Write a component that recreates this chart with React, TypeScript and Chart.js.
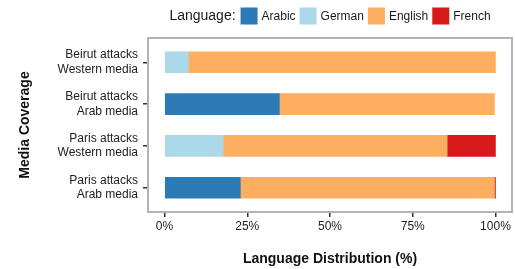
import React, { useEffect, useRef } from 'react';
import { Chart, registerables } from 'chart.js';

Chart.register(...registerables);

const categories: string[][] = [
  ['Beirut attacks', 'Western media'],
  ['Beirut attacks', 'Arab media'],
  ['Paris attacks', 'Western media'],
  ['Paris attacks', 'Arab media'],
];
const languages = ['Arabic', 'German', 'English', 'French'];
const arabic = [0, 34.7, 0, 22.9];
const german = [7.2, 0, 17.7, 0];
const english = [92.8, 65.0, 67.7, 76.8];
const french = [0, 0, 14.6, 0.3];
const xTicks = [0, 25, 50, 75, 100];
const colors = ['#2c7bb6', '#abd9e9', '#fdae61', '#d7191c'];

const FONT = '"Liberation Sans", Arial, Helvetica, sans-serif';

const framePlugin = {
  id: 'frameAndLegend',
  afterDraw(chart: any) {
    const { ctx, chartArea } = chart;
    ctx.save();
    // frame
    ctx.strokeStyle = '#b3b3b3';
    ctx.lineWidth = 2;
    ctx.strokeRect(chartArea.left, chartArea.top, chartArea.right - chartArea.left, chartArea.bottom - chartArea.top);
    // legend
    const cy = 16;
    const box = 17;
    ctx.textBaseline = 'middle';
    ctx.textAlign = 'left';
    ctx.font = `14px ${FONT}`;
    const titleW = ctx.measureText('Language:').width;
    ctx.font = `12px ${FONT}`;
    const labelW = languages.map((l) => ctx.measureText(l).width);
    let total = titleW + 5;
    labelW.forEach((w, i) => {
      total += box + 4 + w + (i < labelW.length - 1 ? 4 : 0);
    });
    let x = (chartArea.left + chartArea.right) / 2 - total / 2;
    ctx.fillStyle = '#1a1a1a';
    ctx.font = `14px ${FONT}`;
    ctx.fillText('Language:', x, cy + 0.5);
    x += titleW + 5;
    ctx.font = `12px ${FONT}`;
    languages.forEach((l, i) => {
      ctx.fillStyle = colors[i];
      ctx.fillRect(x, cy - box / 2, box, box);
      x += box + 4;
      ctx.fillStyle = '#1a1a1a';
      ctx.fillText(l, x, cy + 0.5);
      x += labelW[i] + 4;
    });
    ctx.restore();
  },
};

export default function App() {
  const ref = useRef<HTMLCanvasElement | null>(null);
  useEffect(() => {
    if (!ref.current) return;
    const series = [arabic, german, english, french];
    const chart = new Chart(ref.current, {
      type: 'bar',
      data: {
        datasets: languages.map((l, k) => ({
          label: l,
          data: series[k].map((v, i) => ({ x: v === 0 ? null : v, y: i })) as any,
          backgroundColor: colors[k],
          borderWidth: 0,
          barThickness: 21,
        })),
      },
      options: {
        indexAxis: 'y',
        responsive: false,
        animation: false,
        devicePixelRatio: 1,
        layout: { padding: { top: 38, right: 3, left: 0, bottom: 0 } },
        plugins: {
          legend: { display: false },
          tooltip: { enabled: false },
        },
        scales: {
          x: {
            type: 'linear',
            position: 'bottom',
            min: -5,
            max: 105,
            stacked: true,
            offset: false,
            afterBuildTicks: (s: any) => {
              s.ticks = xTicks.map((v) => ({ value: v }));
            },
            afterFit: (s: any) => {
              s.height = 57;
            },
            ticks: {
              callback: (v: any) => `${v}%`,
              font: { family: FONT, size: 12 },
              color: '#222',
              padding: 2,
              maxRotation: 0,
              autoSkip: false,
            },
            grid: {
              offset: false,
              drawOnChartArea: false,
              drawTicks: true,
              tickLength: 5,
              color: '#333',
              lineWidth: 1.5,
            },
            border: { display: false },
            title: {
              display: true,
              text: 'Language Distribution (%)',
              font: { family: FONT, size: 14, weight: 'bold' },
              color: '#111',
              padding: { top: 0, bottom: 1 },
            },
          },
          y: {
            type: 'linear',
            position: 'left',
            min: -0.58,
            max: 3.58,
            reverse: true,
            stacked: true,
            offset: false,
            afterBuildTicks: (s: any) => {
              s.ticks = categories.map((_, i) => ({ value: i }));
            },
            afterFit: (s: any) => {
              s.width = 148;
            },
            ticks: {
              callback: (_v: any, i: number) => categories[i],
              font: { family: FONT, size: 12 },
              color: '#222',
              padding: 5,
              autoSkip: false,
            },
            grid: {
              offset: false,
              drawOnChartArea: false,
              drawTicks: true,
              tickLength: 5,
              color: '#333',
              lineWidth: 1.5,
            },
            border: { display: false },
            title: {
              display: true,
              text: 'Media Coverage',
              font: { family: FONT, size: 14, weight: 'bold' },
              color: '#111',
              padding: { top: 16.5, bottom: 0 },
            },
          },
        },
      } as any,
      plugins: [framePlugin],
    });
    return () => chart.destroy();
  }, []);
  return (
    <div style={{ position: 'absolute', left: 0, top: 0, width: 515, height: 269 }}>
      <canvas ref={ref} width={515} height={269} style={{ display: 'block' }} />
    </div>
  );
}
